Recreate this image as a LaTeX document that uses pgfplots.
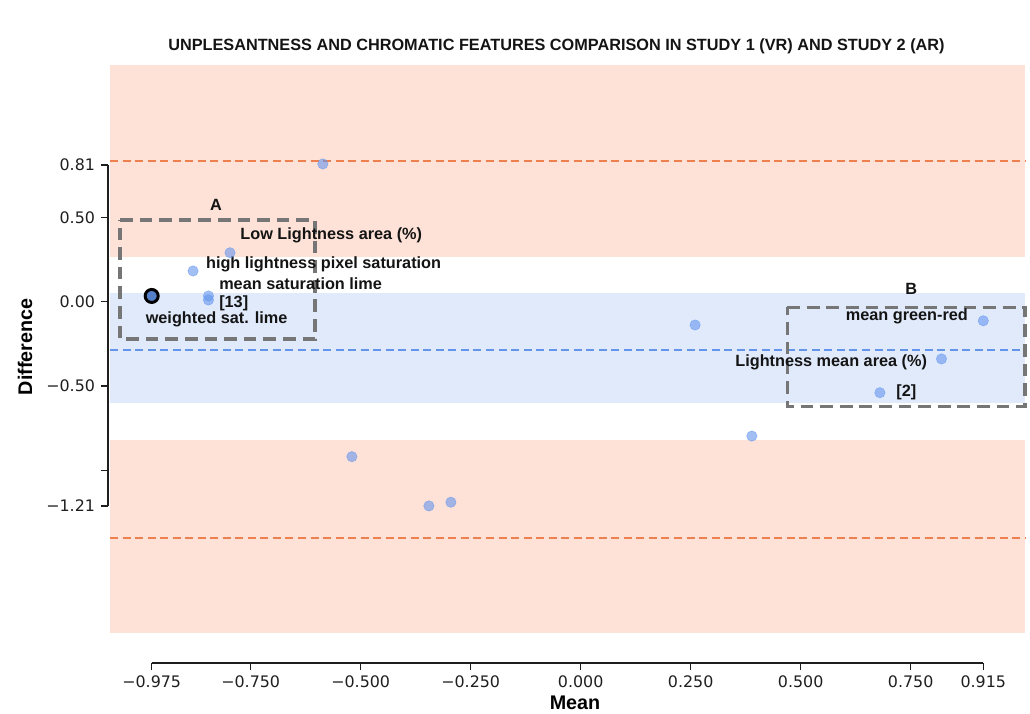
\documentclass[border=0pt]{standalone}
\usepackage{pgfplots}
\pgfplotsset{compat=1.18}
\usepackage{fontspec}
\setmainfont{DejaVu Sans}
\newfontfamily\arialb{Liberation Sans}[BoldFont={* Bold}]
\definecolor{lsalmon}{RGB}{255,160,122}
\definecolor{cfblue}{RGB}{100,149,237}
\definecolor{orng}{RGB}{238,128,80}
\definecolor{boxgray}{RGB}{118,118,118}
\definecolor{spine}{RGB}{30,30,30}
\tikzset{ann/.style={font=\arialb\bfseries\fontsize{12.2}{14}\selectfont, inner sep=0pt, anchor=west, text=black!92}}

\begin{document}
\begin{tikzpicture}
\useasboundingbox (-81pt,-37.5pt) rectangle (691.5pt,497.25pt);
\begin{axis}[
  scale only axis, width=687.75pt, height=448.5pt,
  xmin=-1.0743, xmax=1.0098, ymin=-2.1404, ymax=1.4023,
  clip=false,
  axis x line*=bottom, axis y line*=left,
  axis line style={draw=none},
  tick align=outside, major tick length=5.25pt,
  tick style={spine, line width=1pt},
  xtick={-0.975,-0.75,-0.5,-0.25,0,0.25,0.5,0.75,0.915},
  xticklabels={−0.975,−0.750,−0.500,−0.250,0.000,0.250,0.500,0.750,0.915},
  ytick={0.81,0.5,0,-0.5,-1,-1.21},
  yticklabels={0.81,0.50,0.00,−0.50,,−1.21},
  tick label style={font=\fontsize{11.9}{14}\selectfont, text=black!88},
  xticklabel style={yshift=-1pt},
  yticklabel style={xshift=-1pt},
]
% points (drawn first; shading is translucent over them)
\addplot[only marks, mark=*, mark size=3.9pt,
  mark options={fill=cfblue, draw=cfblue, fill opacity=0.6, draw opacity=0.6}]
  coordinates {
  (-0.586,0.816) (-0.797,0.290) (-0.881,0.182) (-0.846,0.034) (-0.846,0.010)
  (0.260,-0.138) (0.915,-0.113) (0.820,-0.339) (0.680,-0.539) (0.389,-0.796)
  (-0.520,-0.918) (-0.345,-1.210) (-0.295,-1.188)
  };
\addplot[only marks, mark=*, mark size=4.9pt,
  mark options={fill=cfblue!85!black, draw=black, line width=2.2pt}]
  coordinates {(-0.975,0.034)};
% shaded bands
\addplot[draw=none, fill=lsalmon, fill opacity=0.3] coordinates {(-1.0698,0.263) (1.0098,0.263) (1.0098,1.4023) (-1.0698,1.4023)} -- cycle;
\addplot[draw=none, fill=cfblue, fill opacity=0.2] coordinates {(-1.0698,-0.602) (1.0098,-0.602) (1.0098,0.050) (-1.0698,0.050)} -- cycle;
\addplot[draw=none, fill=lsalmon, fill opacity=0.3] coordinates {(-1.0698,-1.963) (1.0098,-1.963) (1.0098,-0.819) (-1.0698,-0.819)} -- cycle;
% mean and limits of agreement
\addplot[orng, line width=1.5pt, dash pattern=on 6pt off 3.4pt] coordinates {(-1.0698,0.832) (1.0098,0.832)};
\addplot[cfblue, line width=1.5pt, dash pattern=on 6pt off 3.4pt] coordinates {(-1.0698,-0.286) (1.0098,-0.286)};
\addplot[orng, line width=1.5pt, dash pattern=on 6pt off 3.4pt] coordinates {(-1.0698,-1.399) (1.0098,-1.399)};
% highlight boxes
\addplot[boxgray, line width=2.6pt, dash pattern=on 9.5pt off 5.2pt] coordinates {(-1.047,0.484) (-0.604,0.484) (-0.604,-0.221) (-1.047,-0.221)} -- cycle;
\addplot[boxgray, line width=2.6pt, dash pattern=on 9.5pt off 5.2pt] coordinates {(0.4695,-0.033) (1.0098,-0.033) (1.0098,-0.622) (0.4695,-0.622)} -- cycle;
% spines
\draw[spine, line width=1pt] (axis cs:-1.0743,0.81) -- (axis cs:-1.0743,-1.21);
\draw[spine, line width=1pt] (axis cs:-0.975,-2.1404) -- (axis cs:0.915,-2.1404);
% annotations
\node[ann, anchor=center] at (axis cs:-0.829,0.573) {A};
\node[ann, anchor=center] at (axis cs:0.751,0.075) {B};
\node[ann] at (axis cs:-0.774,0.391) {Low Lightness area (\%)};
\node[ann] at (axis cs:-0.852,0.223) {high lightness pixel saturation};
\node[ann] at (axis cs:-0.822,0.105) {mean saturation lime};
\node[ann] at (axis cs:-0.822,-0.008) {[13]};
\node[ann] at (axis cs:-0.989,-0.102) {weighted sat. lime};
\node[ann] at (axis cs:0.602,-0.085) {mean green-red};
\node[ann] at (axis cs:0.351,-0.357) {Lightness mean area (\%)};
\node[ann] at (axis cs:0.717,-0.535) {[2]};
% title and axis labels
\node[font=\arialb\bfseries\fontsize{12.2}{14}\selectfont, text=black!92] at (axis cs:-0.055,1.515) {UNPLESANTNESS AND CHROMATIC FEATURES COMPARISON IN STUDY 1 (VR) AND STUDY 2 (AR)};
\node[font=\arialb\bfseries\fontsize{14.8}{17}\selectfont] at (axis cs:-0.013,-2.378) {Mean};
\node[font=\arialb\bfseries\fontsize{14.8}{17}\selectfont, rotate=90] at (axis cs:-1.263,-0.268) {Difference};
\end{axis}
\end{tikzpicture}
\end{document}
